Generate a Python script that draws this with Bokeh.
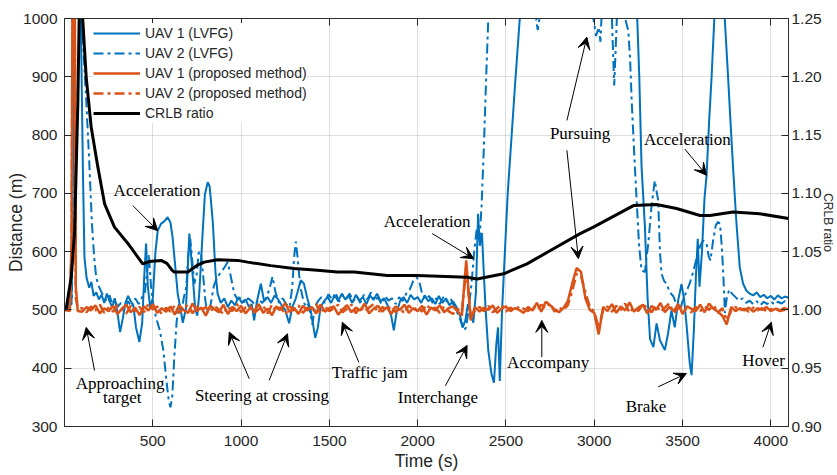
import numpy as np
from bokeh.plotting import figure
from bokeh.models import (Range1d, LinearAxis, FixedTicker, PrintfTickFormatter,
                          Legend, LegendItem, Arrow, VeeHead, Label, ColumnDataSource)
from bokeh.embed import file_html
from bokeh.resources import INLINE

# ---------------- data ----------------
# (time s, distance m) for the LVFG baseline
uav1_lvfg = [
    (0, 500), (40, 510), (50, 800), (58, 1150), (70, 1250), (82, 1150), (90, 1050), (97, 900), (104, 743), (113, 590),
    (125, 555), (140, 538), (152, 548), (165, 524), (180, 530), (195, 518), (210, 526), (225, 512), (240, 528), (255, 515),
    (270, 505), (285, 520), (300, 495), (315, 462), (330, 485), (345, 512), (360, 524), (375, 515), (390, 508), (405, 470),
    (424, 445), (440, 478), (452, 560), (462, 614), (472, 540), (485, 505), (500, 520), (515, 600), (528, 636), (547, 648),
    (565, 652), (584, 659), (600, 650), (612, 625), (627, 575), (641, 528), (655, 505), (670, 478), (688, 503), (700, 585),
    (707, 631), (715, 600), (727, 555), (740, 502), (752, 490), (763, 528), (780, 620), (795, 698), (811, 719), (822, 712),
    (840, 650), (855, 565), (867, 528), (885, 512), (905, 520), (925, 505), (945, 516), (965, 508), (985, 522), (1005, 512),
    (1025, 518), (1045, 505), (1060, 510), (1074, 482), (1090, 515), (1112, 545), (1130, 515), (1150, 522), (1170, 512), (1190, 525),
    (1210, 518), (1230, 508), (1250, 500), (1272, 477), (1290, 505), (1310, 520), (1338, 551), (1356, 545), (1375, 520), (1395, 498),
    (1420, 452), (1435, 470), (1450, 505), (1470, 515), (1490, 522), (1510, 512), (1530, 525), (1550, 515), (1570, 528), (1590, 518),
    (1610, 524), (1630, 512), (1650, 526), (1670, 516), (1690, 522), (1710, 510), (1730, 525), (1750, 517), (1770, 528), (1790, 515),
    (1810, 520), (1830, 508), (1850, 490), (1865, 465), (1880, 495), (1900, 515), (1920, 522), (1940, 512), (1960, 526), (1980, 518),
    (2000, 522), (2020, 512), (2040, 525), (2060, 515), (2080, 520), (2100, 510), (2120, 524), (2140, 512), (2160, 520), (2180, 508),
    (2200, 515), (2220, 505), (2240, 490), (2255, 470), (2270, 482), (2285, 510), (2300, 495), (2315, 478), (2330, 530), (2342, 665),
    (2352, 610), (2364, 632), (2375, 560), (2385, 500), (2400, 430), (2418, 390), (2432, 375), (2445, 440), (2455, 470), (2465, 378),
    (2478, 500), (2510, 700), (2550, 880), (2590, 1050), (2630, 1200), (3200, 1200), (3240, 1030), (3255, 900), (3268, 745), (3287, 642),
    (3302, 520), (3316, 450), (3335, 436), (3353, 477), (3372, 448), (3400, 431), (3418, 460), (3437, 499), (3456, 470), (3475, 516),
    (3494, 544), (3508, 520), (3522, 477), (3541, 408), (3551, 388), (3564, 465), (3576, 560), (3586, 622), (3596, 540), (3610, 600),
    (3624, 690), (3636, 731), (3650, 820), (3664, 897), (3680, 1000), (3700, 1150), (3720, 1180), (3739, 1000), (3758, 899), (3772, 820),
    (3786, 745), (3805, 650), (3824, 573), (3843, 545), (3862, 533), (3880, 528), (3900, 525), (3920, 530), (3940, 522), (3960, 526),
    (3980, 520), (4000, 524), (4020, 518), (4040, 525), (4060, 520), (4080, 523), (4100, 521),
]

uav2_lvfg = [
    (0, 500), (42, 520), (52, 900), (60, 1200), (78, 1200), (95, 1020), (110, 930), (123, 860), (140, 755), (155, 650),
    (168, 590), (180, 555), (195, 540), (210, 530), (225, 522), (240, 515), (255, 525), (270, 510), (285, 518), (300, 505),
    (320, 512), (340, 500), (360, 515), (380, 505), (400, 520), (420, 510), (440, 522), (455, 530), (466, 560), (478, 595),
    (490, 540), (505, 505), (520, 485), (540, 465), (560, 430), (575, 385), (590, 345), (600, 333), (610, 350), (622, 420),
    (635, 480), (648, 510), (662, 495), (675, 520), (690, 540), (702, 600), (712, 622), (722, 590), (735, 545), (748, 560),
    (760, 598), (772, 600), (785, 560), (798, 515), (810, 495), (825, 505), (845, 540), (862, 555), (879, 562), (895, 568),
    (910, 575), (924, 582), (940, 560), (961, 528), (980, 518), (1000, 522), (1020, 512), (1040, 520), (1060, 515), (1080, 508),
    (1100, 518), (1120, 512), (1140, 520), (1160, 535), (1178, 557), (1195, 530), (1215, 512), (1235, 520), (1255, 510), (1275, 505),
    (1290, 540), (1300, 590), (1310, 617), (1320, 590), (1335, 540), (1350, 520), (1365, 505), (1380, 510), (1395, 490), (1404, 475),
    (1418, 505), (1435, 515), (1455, 522), (1475, 512), (1495, 527), (1515, 518), (1535, 530), (1555, 514), (1575, 526), (1595, 520),
    (1615, 528), (1635, 515), (1655, 524), (1675, 512), (1695, 526), (1715, 518), (1735, 530), (1755, 515), (1775, 522), (1795, 510),
    (1815, 524), (1835, 516), (1855, 520), (1875, 510), (1895, 522), (1915, 515), (1935, 528), (1955, 535), (1975, 550), (1995, 556),
    (2010, 548), (2025, 528), (2045, 518), (2065, 524), (2085, 512), (2105, 520), (2125, 510), (2145, 522), (2165, 514), (2185, 520),
    (2205, 508), (2225, 495), (2245, 480), (2261, 465), (2275, 470), (2290, 505), (2305, 545), (2320, 600), (2335, 640), (2350, 620),
    (2362, 680), (2375, 780), (2388, 900), (2400, 1000), (2412, 1150), (2430, 1200), (2660, 1200), (2672, 995), (2680, 980), (2690, 1000),
    (2700, 1200), (2980, 1200), (2995, 1000), (3010, 970), (3025, 985), (3035, 960), (3048, 1050), (3085, 1100), (3100, 1000), (3113, 885),
    (3128, 1000), (3145, 1100), (3160, 1050), (3175, 1000), (3193, 979), (3203, 930), (3212, 859), (3226, 770), (3240, 688), (3254, 610),
    (3268, 568), (3287, 565), (3296, 590), (3306, 614), (3325, 680), (3343, 722), (3355, 700), (3362, 688), (3372, 600), (3381, 562),
    (3395, 550), (3409, 545), (3428, 530), (3447, 524), (3465, 510), (3485, 500), (3500, 515), (3520, 530), (3540, 545), (3560, 565),
    (3580, 590), (3600, 610), (3617, 619), (3636, 614), (3648, 592), (3658, 585), (3673, 619), (3688, 645), (3701, 651), (3712, 648),
    (3722, 610), (3731, 560), (3740, 495), (3750, 520), (3765, 535), (3780, 528), (3800, 522), (3820, 516), (3840, 520), (3860, 512),
    (3880, 516), (3900, 510), (3920, 515), (3940, 508), (3960, 514), (3980, 510), (4000, 515), (4020, 509), (4040, 514), (4060, 511),
    (4080, 515), (4100, 512),
]

# proposed method: launch transient, then samples every 25 s from t = 100 s
prop_head_time = [0, 30, 40, 46, 52, 58, 64, 75]
uav1_prop_head = [500, 503, 620, 1100, 1200, 1050, 540, 498]
uav2_prop_head = [500, 498, 600, 1080, 1190, 1020, 520, 503]
prop_time = list(range(100, 4101, 25))
uav1_prop = [
    497, 505, 499, 508, 494, 503, 498, 507, 493, 502,
    509, 496, 504, 491, 506, 499, 510, 495, 503, 497,
    506, 492, 508, 500, 495, 511, 498, 504, 490, 507,
    501, 496, 509, 493, 505, 498, 507, 494, 503, 499,
    510, 495, 502, 491, 506, 500, 512, 496, 504, 493,
    507, 499, 505, 494, 509, 497, 503, 506, 492, 501,
    508, 496, 504, 499, 511, 494, 502, 507, 497, 505,
    493, 506, 500, 509, 495, 503, 498, 507, 492, 504,
    499, 508, 496, 503, 506, 498, 490, 585, 482, 505,
    497, 504, 500, 508, 495, 502, 506, 498, 503, 500,
    495, 505, 499, 512, 497, 514, 508, 501, 496, 503,
    515, 545, 572, 565, 520, 500, 495, 458, 505, 498,
    510, 495, 506, 499, 513, 497, 504, 509, 494, 507,
    500, 512, 496, 505, 498, 510, 493, 506, 502, 498,
    509, 496, 511, 502, 497, 490, 475, 505, 498, 503,
    499, 504, 497, 503, 500, 505, 498, 502, 499, 503, 501,
]
uav2_prop = [
    503, 496, 506, 499, 509, 495, 504, 497, 508, 500,
    494, 507, 498, 505, 496, 510, 501, 506, 493, 504,
    497, 508, 495, 503, 509, 494, 506, 499, 505, 496,
    507, 500, 493, 506, 498, 511, 496, 504, 508, 495,
    501, 507, 494, 509, 497, 505, 492, 506, 499, 508,
    495, 504, 500, 510, 493, 506, 498, 503, 509, 496,
    502, 509, 494, 506, 497, 504, 510, 495, 505, 499,
    507, 496, 503, 494, 508, 499, 505, 497, 509, 501,
    504, 495, 506, 498, 493, 502, 496, 572, 488, 499,
    505, 498, 507, 496, 503, 509, 497, 504, 499, 506,
    502, 498, 507, 500, 509, 503, 512, 497, 505, 499,
    508, 532, 562, 558, 530, 505, 497, 470, 499, 506,
    497, 507, 500, 511, 495, 505, 498, 510, 503, 496,
    508, 497, 504, 511, 495, 503, 507, 499, 496, 505,
    498, 506, 500, 509, 495, 503, 482, 498, 505, 499,
    502, 497, 504, 499, 503, 498, 501, 504, 498, 500, 502,
]

# (time s, CRLB ratio)
crlb_ratio = [
    (0, 1.000), (10, 1.0015), (38, 1.028), (57, 1.066), (76, 1.18), (88, 1.30), (99, 1.26), (123, 1.1995),
    (151, 1.157), (189, 1.1225), (227, 1.091), (283, 1.071), (359, 1.057), (443, 1.0395), (480, 1.0415),
    (547, 1.0425), (580, 1.040), (610, 1.034), (622, 1.0325), (698, 1.0325), (754, 1.0385), (792, 1.041),
    (867, 1.043), (980, 1.0425), (1037, 1.041), (1168, 1.038), (1300, 1.0355), (1432, 1.034), (1545, 1.0325),
    (1640, 1.0325), (1828, 1.0295), (1997, 1.0295), (2280, 1.028), (2336, 1.0265), (2487, 1.031), (2619, 1.0395),
    (2769, 1.0525), (2920, 1.0655), (2995, 1.071), (3222, 1.0895), (3353, 1.0905), (3466, 1.087), (3599, 1.081),
    (3655, 1.081), (3786, 1.084), (3937, 1.0825), (4100, 1.0785),
]

time_ticks = [500, 1000, 1500, 2000, 2500, 3000, 3500, 4000]
dist_ticks = [300, 400, 500, 600, 700, 800, 900, 1000]
ratio_ticks = [0.90, 0.95, 1.00, 1.05, 1.10, 1.15, 1.20, 1.25]

# event notes: (text, time, distance)
notes = [
    ("Acceleration", 524, 705), ("Acceleration", 2054, 652), ("Pursuing", 2920, 803),
    ("Acceleration", 3527, 793), ("Approaching", 315, 374), ("target", 327, 350),
    ("Steering at crossing", 1118, 353), ("Traffic jam", 1728, 393), ("Interchange", 2115, 349),
    ("Accompany", 2739, 410), ("Brake", 3293, 335), ("Hover", 3959, 413),
]
# pointer arrows: (tail time, tail distance, head time, head distance)
pointers = [
    (387, 679, 528, 636), (2082, 631, 2317, 588), (2845, 825, 2958, 968), (2845, 774, 2910, 588),
    (3513, 776, 3636, 731), (170, 396, 123, 470), (1046, 382, 933, 462), (1159, 379, 1263, 459),
    (1667, 410, 1573, 479), (2157, 370, 2280, 439), (2703, 419, 2703, 482), (3362, 368, 3522, 391),
    (3955, 436, 4003, 479),
]

# ---------------- figure ----------------
BLUE = "#0072BD"
ORANGE = "#D95319"
AXC = "#262626"
SANS = "Liberation Sans"
SERIF = "Liberation Serif"

p = figure(width=837, height=475, output_backend="svg", toolbar_location=None,
           x_range=Range1d(0, 4100), y_range=Range1d(300, 1000),
           min_border_left=64, min_border_right=48, min_border_top=18, min_border_bottom=49,
           background_fill_color="white", border_fill_color="white")
p.extra_y_ranges = {"crlb": Range1d(0.90, 1.25)}
p.outline_line_color = AXC
p.outline_line_alpha = 0.8


def style_axis(ax, ticks, standoff):
    ax.ticker = FixedTicker(ticks=ticks)
    ax.axis_line_color = AXC
    ax.axis_line_alpha = 0.8
    ax.major_tick_line_color = AXC
    ax.major_tick_in = 7
    ax.major_tick_out = 0
    ax.minor_tick_line_color = None
    ax.major_label_standoff = standoff
    ax.major_label_text_font = SANS
    ax.major_label_text_font_size = "15.5px"
    ax.major_label_text_color = AXC
    ax.axis_label_text_font = SANS
    ax.axis_label_text_font_size = "17.5px"
    ax.axis_label_text_font_style = "normal"
    ax.axis_label_text_color = AXC


xax = p.xaxis[0]
style_axis(xax, time_ticks, 9)
xax.axis_label = "Time (s)"
xax.axis_label_standoff = 2

yax = p.yaxis[0]
style_axis(yax, dist_ticks, 7)
yax.axis_label = "Distance (m)"
yax.axis_label_standoff = -6

# right axis: tight label spacing so its title still fits inside the canvas
rax = LinearAxis(y_range_name="crlb")
style_axis(rax, ratio_ticks, 3)
rax.formatter = PrintfTickFormatter(format="%.2f")
rax.axis_label = "CRLB ratio"
rax.axis_label_text_font_size = "12px"
rax.axis_label_standoff = -4
p.add_layout(rax, "right")

tax = LinearAxis()
style_axis(tax, time_ticks, 0)
tax.major_label_text_font_size = "1px"
tax.major_label_text_alpha = 0
p.add_layout(tax, "above")

p.xgrid.ticker = FixedTicker(ticks=time_ticks)
p.ygrid.ticker = FixedTicker(ticks=dist_ticks)
for g in (p.xgrid, p.ygrid):
    g.grid_line_color = AXC
    g.grid_line_alpha = 0.15
    g.grid_line_width = 1

DASHDOT = "10 4 3 4"

t1, d1 = zip(*uav1_lvfg)
t2, d2 = zip(*uav2_lvfg)
tc, rc = zip(*crlb_ratio)

r_u1 = p.line(list(t1), list(d1), line_color=BLUE, line_width=2)
r_u2 = p.line(list(t2), list(d2), line_color=BLUE, line_width=2, line_dash=DASHDOT)
r_p1 = p.line(prop_head_time + prop_time, uav1_prop_head + uav1_prop,
              line_color=ORANGE, line_width=2.5)
r_p2 = p.line(prop_head_time + prop_time, uav2_prop_head + uav2_prop,
              line_color=ORANGE, line_width=2.5, line_dash=DASHDOT)
r_cr = p.line(list(tc), list(rc), line_color="black", line_width=3, y_range_name="crlb")

# event arrows and notes
tx0, ty0, tx1, ty1 = zip(*pointers)
arrow_src = ColumnDataSource(dict(x0=list(tx0), y0=list(ty0), x1=list(tx1), y1=list(ty1)))
p.add_layout(Arrow(source=arrow_src, x_start="x0", y_start="y0", x_end="x1", y_end="y1",
                   line_color="black", line_width=1,
                   end=VeeHead(size=12, fill_color="black", line_color="black", line_width=1)))

for text, tx, ty in notes:
    p.add_layout(Label(x=tx, y=ty, text=text, text_font=SERIF, text_font_size="17px",
                       text_color="black", text_align="center", text_baseline="middle"))

legend = Legend(items=[
    LegendItem(label="UAV 1 (LVFG)", renderers=[r_u1]),
    LegendItem(label="UAV 2 (LVFG)", renderers=[r_u2]),
    LegendItem(label="UAV 1 (proposed method)", renderers=[r_p1]),
    LegendItem(label="UAV 2 (proposed method)", renderers=[r_p2]),
    LegendItem(label="CRLB ratio", renderers=[r_cr]),
], location=(29, 303))
legend.label_text_font = SANS
legend.label_text_font_size = "14px"
legend.label_text_color = AXC
legend.glyph_width = 47
legend.glyph_height = 20
legend.label_height = 20
legend.label_standoff = 5
legend.spacing = 0
legend.padding = 5
legend.margin = 0
legend.border_line_color = None
legend.background_fill_color = "white"
legend.background_fill_alpha = 1
p.add_layout(legend)

open("out.html", "w").write(file_html(p, INLINE))
